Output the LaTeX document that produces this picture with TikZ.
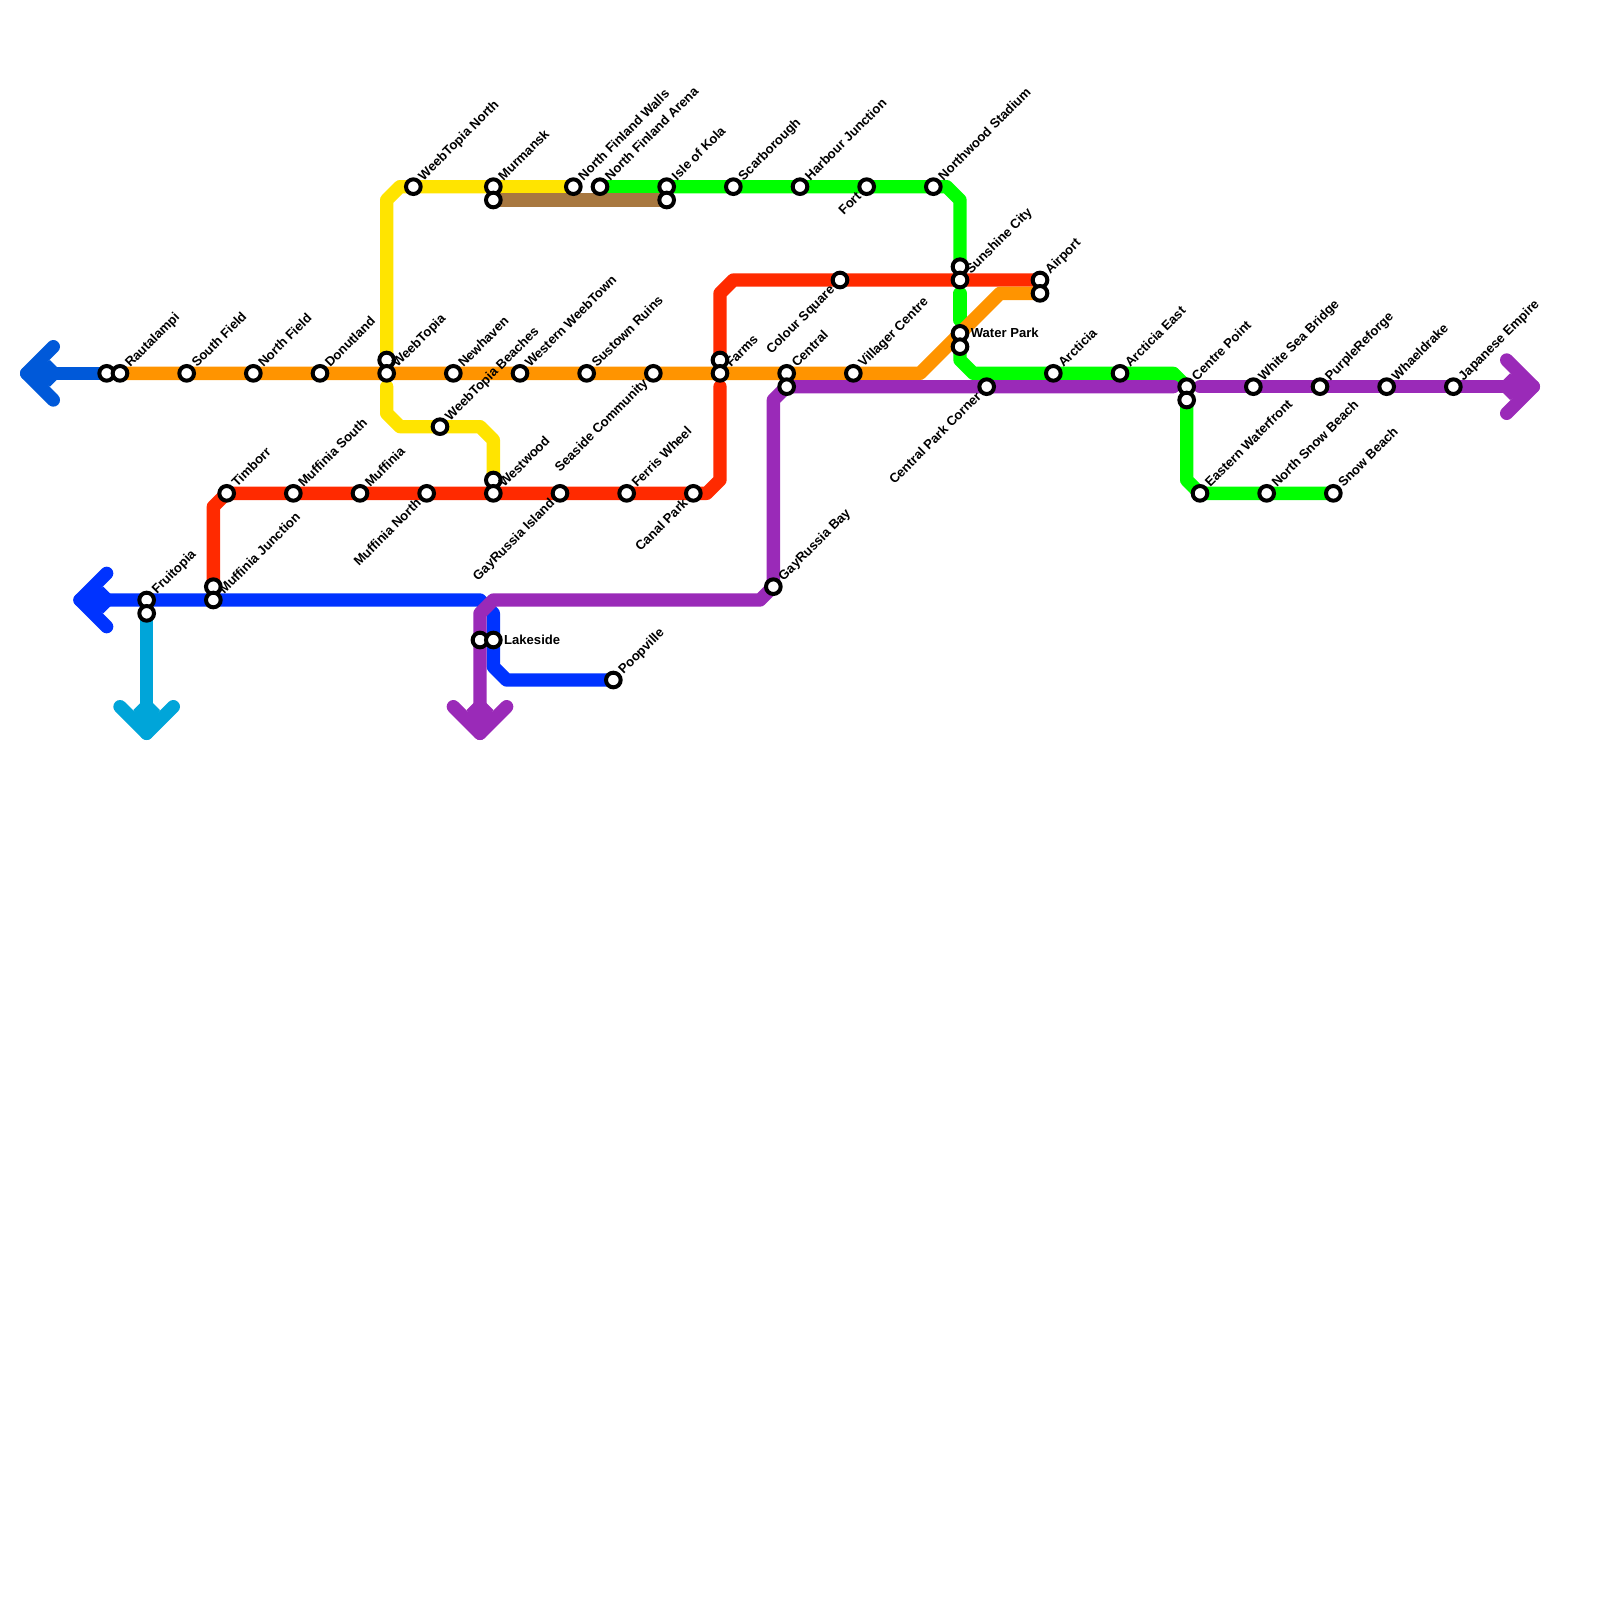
\documentclass[tikz,border=0pt]{standalone}
\usepackage{fontspec}
\setmainfont{Liberation Sans}
\usetikzlibrary{calc}
\definecolor{cDark}{HTML}{0059D9}
\definecolor{cBlue}{HTML}{0033FF}
\definecolor{cSky}{HTML}{00A5D9}
\definecolor{cOrange}{HTML}{FF9400}
\definecolor{cYellow}{HTML}{FFE400}
\definecolor{cGreen}{HTML}{00FF00}
\definecolor{cRed}{HTML}{FF2A00}
\definecolor{cPurple}{HTML}{9A2AB8}
\definecolor{cBrown}{HTML}{A87840}
\pgfdeclarelayer{lines}
\pgfsetlayers{lines,main}
\tikzset{
  x=0.5cm,y=-0.5cm,
  stn/.style={circle,draw=black,fill=white,line width=1.5mm,minimum size=5.5mm,inner sep=0pt},
  metro/.style={line width=5mm,line cap=round,line join=round},
  labtxt/.style={font=\fontsize{13.95}{16}\selectfont\bfseries,text=black,inner sep=0pt},
  labu/.style={labtxt,rotate=45,anchor=base west},
  labd/.style={labtxt,rotate=45,anchor=base east},
  labh/.style={labtxt,anchor=base west},
}
\newcommand{\St}[3]{\node[stn] (#1) at (#2,#3) {};}
\newcommand{\Ur}[4]{\St{#1}{#2}{#3}\node[labu] (#1-l) at ([shift={(.77,-.4)}]#1.center) {#4};}
\newcommand{\Uo}[4]{\St{#1}{#2}{#3}\node[labu] (#1-l) at ([shift={(.82,-.4)}]#1.center) {#4};}
\newcommand{\Dl}[4]{\St{#1}{#2}{#3}\node[labd] (#1-l) at ([shift={(-.35,.8)}]#1.center) {#4};}
\begin{document}
\begin{tikzpicture}
\useasboundingbox (0,0) rectangle (120,120);
% stations on y=28
\St{a0}{8}{28}
\Ur{rau}{9}{28}{Rautalampi}
\Ur{sou}{14}{28}{South Field}
\Ur{nor}{19}{28}{North Field}
\Ur{don}{24}{28}{Donutland}
\St{wtt}{29}{27}
\Uo{wt}{29}{28}{WeebTopia}
\Ur{new}{34}{28}{Newhaven}
\Ur{wwt}{39}{28}{Western WeebTown}
\Ur{sus}{44}{28}{Sustown Ruins}
\Dl{sea}{49}{28}{Seaside Community}
\St{fart}{54}{27}
\Uo{far}{54}{28}{Farms}
\Ur{cen}{59}{28}{Central}
\St{cenb}{59}{29}
\Ur{vil}{64}{28}{Villager Centre}
% top row
\Ur{wtn}{31}{14}{WeebTopia North}
\Ur{mur}{37}{14}{Murmansk}
\St{murb}{37}{15}
\Ur{nfw}{43}{14}{North Finland Walls}
\Ur{nfa}{45}{14}{North Finland Arena}
\Ur{iok}{50}{14}{Isle of Kola}
\St{iokb}{50}{15}
\Ur{sca}{55}{14}{Scarborough}
\Ur{har}{60}{14}{Harbour Junction}
\Dl{for}{65}{14}{Fort}
\Ur{nws}{70}{14}{Northwood Stadium}
% right middle
\St{sunt}{72}{20}
\Uo{sun}{72}{21}{Sunshine City}
\Dl{col}{63}{21}{Colour Square}
\Ur{air}{78}{21}{Airport}
\St{airb}{78}{22}
\St{wat}{72}{25}
\node[labh] (wat-l) at ([shift={(.8,.3)}]wat.center) {Water Park};
\St{watb}{72}{26}
\Ur{arc}{79}{28}{Arcticia}
\Ur{are}{84}{28}{Arcticia East}
\Dl{cpc}{74}{29}{Central Park Corner}
\Ur{cep}{89}{29}{Centre Point}
\St{cepb}{89}{30}
\Ur{wsb}{94}{29}{White Sea Bridge}
\Ur{pur}{99}{29}{PurpleReforge}
\Ur{wha}{104}{29}{Whaeldrake}
\Ur{jap}{109}{29}{Japanese Empire}
\Ur{eas}{90}{37}{Eastern Waterfront}
\Ur{nsb}{95}{37}{North Snow Beach}
\Ur{snb}{100}{37}{Snow Beach}
% y=32..37
\Ur{wtb}{33}{32}{WeebTopia Beaches}
\St{wesT}{37}{36}
\Uo{wes}{37}{37}{Westwood}
\Ur{tim}{17}{37}{Timborr}
\Ur{mus}{22}{37}{Muffinia South}
\Ur{muf}{27}{37}{Muffinia}
\Dl{mun}{32}{37}{Muffinia North}
\Dl{gri}{42}{37}{GayRussia Island}
\Ur{fer}{47}{37}{Ferris Wheel}
\Dl{can}{52}{37}{Canal Park}
% lower left
\Ur{fru}{11}{45}{Fruitopia}
\St{frub}{11}{46}
\St{mujt}{16}{44}
\Uo{muj}{16}{45}{Muffinia Junction}
\St{lak0}{36}{48}
\St{lak}{37}{48}
\node[labh] (lak-l) at ([shift={(.8,.3)}]lak.center) {Lakeside};
\Ur{poo}{46}{51}{Poopville}
\Ur{grb}{58}{44}{GayRussia Bay}
% free ends
\coordinate (tipDark) at (2,28);
\coordinate (tipBlue) at (6,45);
\coordinate (tipSky) at (11,55);
\coordinate (tipPurS) at (36,55);
\coordinate (tipPurE) at (115,29);
\begin{pgfonlayer}{lines}
% sky
\draw[metro,cSky] (frub.center) -- (tipSky);
\draw[metro,cSky] (9,53) -- (tipSky) -- (13,53);
\fill[cSky] (tipSky) -- (10,53.25) -- (11,52.25) -- (12,53.25) -- cycle;
% dark
\draw[metro,cDark] (a0.center) -- (tipDark);
\draw[metro,cDark] (4,26) -- (tipDark) -- (4,30);
\fill[cDark] (tipDark) -- (3.75,27) -- (4.75,28) -- (3.75,29) -- cycle;
% blue
\draw[metro,cBlue] (tipBlue) -- (36,45) -- (37,46) -- (lak.center) -- (37,50) -- (38,51) -- (poo.center);
\draw[metro,cBlue] (8,43) -- (tipBlue) -- (8,47);
\fill[cBlue] (tipBlue) -- (7.75,44) -- (8.75,45) -- (7.75,46) -- cycle;
% green
\draw[metro,cGreen] (nfa.center) -- (nws.center) -- (71,14) -- (72,15) -- (sunt.center);
\draw[metro,cGreen] (72,22) -- (72,24);
\draw[metro,cGreen] (watb.center) -- (72,27) -- (73,28) -- (88,28) -- (cep.center);
\draw[metro,cGreen] (cepb.center) -- (89,36) -- (eas.center) -- (snb.center);
% yellow
\draw[metro,cYellow] (wtt.center) -- (29,15) -- (30,14) -- (nfw.center);
\draw[metro,cYellow] (29,29) -- (29,31) -- (30,32) -- (36,32) -- (37,33) -- (wesT.center);
% brown
\draw[metro,cBrown] (murb.center) -- (iokb.center);
% red
\draw[metro,cRed] (mujt.center) -- (16,38) -- (tim.center) -- (53,37) -- (54,36) -- (54,29);
\draw[metro,cRed] (fart.center) -- (54,22) -- (55,21) -- (air.center);
% orange
\draw[metro,cOrange] (rau.center) -- (69,28) -- (75,22) -- (airb.center);
% purple
\draw[metro,cPurple] (tipPurS) -- (36,46) -- (37,45) -- (57,45) -- (58,44) -- (58,30) -- (cenb.center) -- (88,29);
\draw[metro,cPurple] (34,53) -- (tipPurS) -- (38,53);
\fill[cPurple] (tipPurS) -- (35,53.25) -- (36,52.25) -- (37,53.25) -- cycle;
\draw[metro,cPurple] (90,29) -- (tipPurE);
\draw[metro,cPurple] (113,27) -- (tipPurE) -- (113,31);
\fill[cPurple] (tipPurE) -- (113.25,28) -- (112.25,29) -- (113.25,30) -- cycle;
\end{pgfonlayer}
\end{tikzpicture}
\end{document}
